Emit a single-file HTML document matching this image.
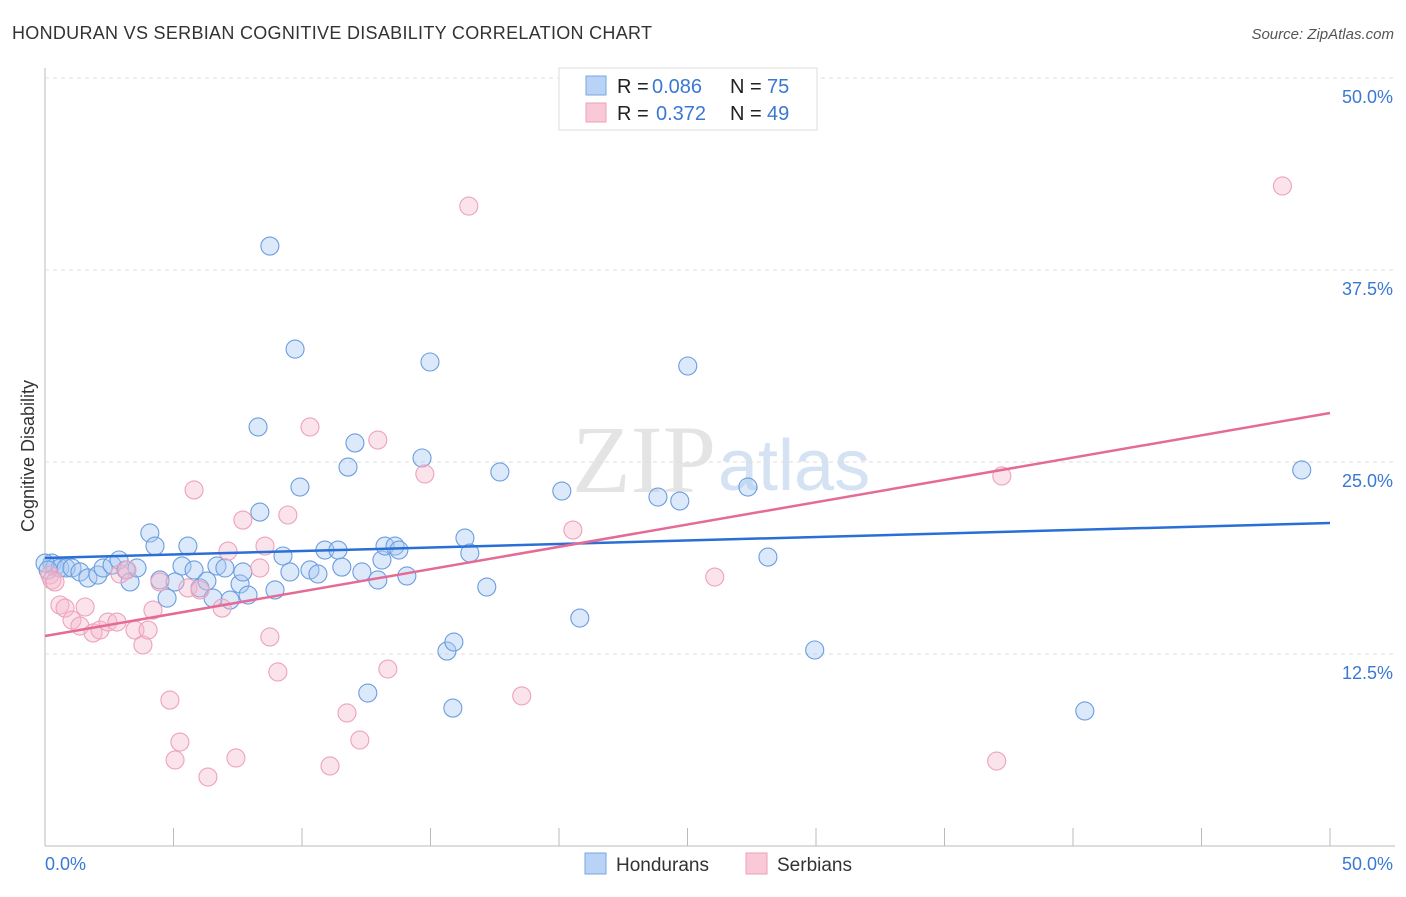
<!DOCTYPE html>
<html><head><meta charset="utf-8"><style>
body{margin:0;background:#fff;font-family:"Liberation Sans",sans-serif}
</style></head><body>
<svg id="c" width="1406" height="892" xmlns="http://www.w3.org/2000/svg" style="font-family:'Liberation Sans',sans-serif">
<text x="12" y="39" font-size="18" fill="#333" textLength="640">HONDURAN VS SERBIAN COGNITIVE DISABILITY CORRELATION CHART</text>
<text x="1394" y="39" font-size="15" fill="#555" font-style="italic" text-anchor="end">Source: ZipAtlas.com</text>
<text x="34" y="456" font-size="18" fill="#333" text-anchor="middle" transform="rotate(-90 34 456)">Cognitive Disability</text>
<text x="716" y="492" font-size="96" fill="#e4e4e4" text-anchor="end" font-family="Liberation Serif">ZIP</text>
<text x="718" y="490" font-size="72" fill="#d4e2f4">atlas</text>
<g id="grid"></g><g id="pts"></g><g id="lines"></g>
<g>
<rect x="559" y="68" width="258" height="62" fill="#fff" stroke="#ddd"/>
<rect x="586" y="76" width="20" height="19" fill="#b8d3f5" stroke="#7aa7e0"/>
<rect x="586" y="103" width="20" height="19" fill="#f9c9d8" stroke="#eba0b8"/>
<text x="617" y="93" font-size="20" fill="#222">R =</text>
<text x="652" y="93" font-size="20" fill="#3a78d4">0.086</text>
<text x="730" y="93" font-size="20" fill="#222">N =</text>
<text x="767" y="93" font-size="20" fill="#3a78d4">75</text>
<text x="617" y="120" font-size="20" fill="#222">R =</text>
<text x="656" y="120" font-size="20" fill="#3a78d4">0.372</text>
<text x="730" y="120" font-size="20" fill="#222">N =</text>
<text x="767" y="120" font-size="20" fill="#3a78d4">49</text>
</g>
<g>
<rect x="585" y="853" width="21" height="21" fill="#b8d3f5" stroke="#7aa7e0"/>
<text x="616" y="871" font-size="19" fill="#333">Hondurans</text>
<rect x="746" y="853" width="21" height="21" fill="#f9c9d8" stroke="#eba0b8"/>
<text x="777" y="871" font-size="19" fill="#333">Serbians</text>
</g>
</svg>
<script>
const blueX=[0.27,0.39,0.58,0.82,1.05,1.36,1.67,2.06,2.26,2.61,2.88,3.15,3.31,3.58,4.08,4.28,4.75,5.06,5.33,5.56,5.80,6.03,6.30,6.54,6.69,7.00,7.20,7.59,7.70,7.90,8.29,8.36,8.75,8.95,9.26,9.53,9.73,9.92,10.31,10.62,10.89,11.40,11.55,11.79,12.06,12.33,12.56,12.95,13.11,13.23,13.62,13.77,14.08,14.67,14.98,15.64,15.91,15.87,16.34,16.53,17.19,17.70,20.11,20.81,23.85,24.70,25.01,27.35,28.13,29.95,40.46,48.90,0,0.12,4.47];
const blueY=[18.42,18.16,18.10,18.10,18.10,17.84,17.45,17.64,18.10,18.29,18.62,17.97,17.19,18.10,20.38,19.53,16.14,17.19,18.23,19.53,17.97,16.80,17.25,16.14,18.23,18.10,16.01,17.06,17.84,16.34,27.28,21.74,39.06,16.67,18.88,17.84,32.35,23.37,17.97,17.71,19.27,19.27,18.16,24.67,26.24,17.84,9.96,17.32,18.62,19.53,19.53,19.27,17.58,25.26,31.51,12.69,13.28,8.98,20.05,19.07,16.86,24.35,23.11,14.84,22.72,22.46,31.25,23.37,18.81,12.76,8.79,24.48,18.42,17.97,17.32];
const pinkX=[0.19,0.27,0.39,0.58,0.78,1.05,1.36,1.56,1.87,2.14,2.45,2.80,2.92,3.19,3.50,3.81,4.01,4.20,4.47,4.86,5.06,5.25,5.56,5.80,6.03,6.34,6.89,7.12,7.43,7.70,8.36,8.56,8.75,9.06,9.45,10.31,11.09,11.75,12.25,12.95,13.34,14.78,16.49,18.55,20.54,26.06,37.03,37.23,48.15];
const pinkY=[17.64,17.32,17.19,15.69,15.49,14.71,14.32,15.56,13.87,14.06,14.58,14.58,17.71,17.97,14.06,13.09,14.06,15.36,17.19,9.50,5.60,6.77,16.80,23.18,16.67,4.49,15.49,19.20,5.73,21.22,18.10,19.53,13.61,11.33,21.55,27.28,5.21,8.66,6.90,26.43,11.52,24.22,41.66,9.77,20.57,17.51,5.53,24.09,42.97];
const blueTrend=[18.75,21.03];
const pinkTrend=[13.67,28.19];
const yTicks=[12.5,25,37.5,50];
const yTickLabels=["12.5%","25.0%","37.5%","50.0%"];
const xTicks=[0,5,10,15,20,25,30,35,40,45,50];
const NS="http://www.w3.org/2000/svg";
const sx=v=>45+v/50*1285, sy=v=>846-v/12.5*192;
function mk(t,a,p){const e=document.createElementNS(NS,t);for(const k in a)e.setAttribute(k,a[k]);p.appendChild(e);return e;}
const g=document.getElementById('grid');
let ax=mk('line',{x1:45,y1:68,x2:45,y2:846,stroke:'#bbb'},g);


let bx=mk('line',{x1:45,y1:846,x2:1395,y2:846,stroke:'#bbb'},g);


yTicks.forEach((v,i)=>{
 const l=mk('line',{x1:45,x2:1395,y1:sy(v),y2:sy(v),stroke:'#ddd','stroke-dasharray':'4,4'},g);
 
 
 const t=mk('text',{x:1393,y:sy(v)+25,'font-size':18,fill:'#3a78d4','text-anchor':'end'},g);
 t.textContent=yTickLabels[i];
 
 
});
xTicks.forEach(v=>{
 const l=mk('line',{x1:sx(v),x2:sx(v),y1:828,y2:846,stroke:'#bbb'},g);
 
 
});
let t0=mk('text',{x:45,y:870,'font-size':18,fill:'#3a78d4'},g);t0.textContent='0.0%';


let t1=mk('text',{x:1393,y:870,'font-size':18,fill:'#3a78d4','text-anchor':'end'},g);t1.textContent='50.0%';


const P=document.getElementById('pts');
blueX.forEach((x,i)=>{
 const c=mk('circle',{cx:sx(x),cy:sy(blueY[i]),r:9,fill:'rgba(168,200,242,0.4)',stroke:'#6a9de0','stroke-width':1.1},P);
 
 
});
pinkX.forEach((x,i)=>{
 const c=mk('circle',{cx:sx(x),cy:sy(pinkY[i]),r:9,fill:'rgba(246,186,205,0.4)',stroke:'#eda2bb','stroke-width':1.1},P);
 
 
});
const L=document.getElementById('lines');
let lb=mk('line',{x1:sx(0),y1:sy(blueTrend[0]),x2:sx(50),y2:sy(blueTrend[1]),stroke:'#2a6fd6','stroke-width':2.5},L);


let lp=mk('line',{x1:sx(0),y1:sy(pinkTrend[0]),x2:sx(50),y2:sy(pinkTrend[1]),stroke:'#e56a95','stroke-width':2.5},L);


</script>
</body></html>
